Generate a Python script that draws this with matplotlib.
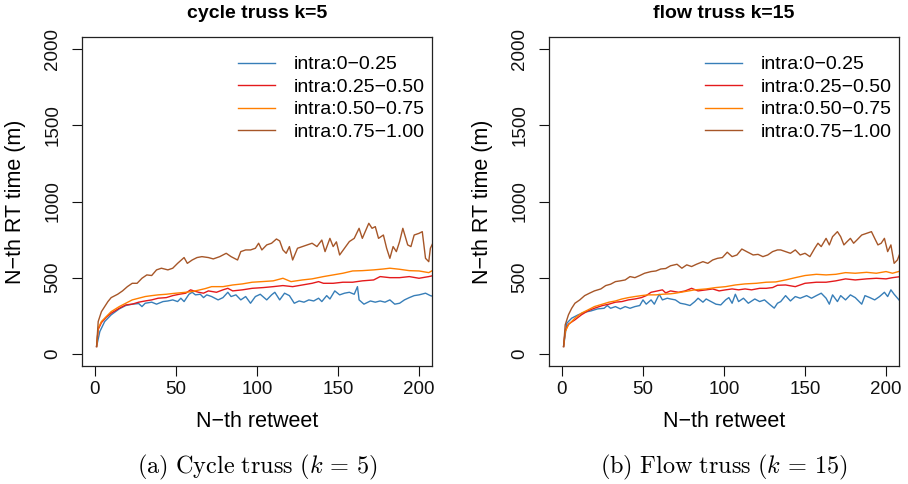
import matplotlib
matplotlib.use("Agg")
import matplotlib.pyplot as plt

plt.rcParams["font.family"] = ["Liberation Sans", "DejaVu Sans"]
plt.rcParams["mathtext.fontset"] = "cm"

labels = ["intra:0\u22120.25", "intra:0.25\u22120.50", "intra:0.50\u22120.75", "intra:0.75\u22121.00"]
colors = ["#377EB8", "#E41A1C", "#FF7F00", "#A65628"]
x_ticks = [0, 50, 100, 150, 200]
y_ticks = [0, 500, 1000, 1500, 2000]

# ---- cycle truss k=5 ----
cyc_blue_x = [1, 3, 6, 10, 15, 19, 23, 27, 29, 31, 35, 38, 42, 45, 48, 51, 53, 55, 58, 60, 62, 65, 67, 69,
              72, 76, 79, 82, 84, 87, 90, 93, 96, 99, 102, 106, 109, 111, 114, 117, 120, 123, 126, 129,
              132, 135, 138, 140, 143, 145, 148, 151, 154, 157, 160, 162, 163, 166, 170, 173, 176, 179,
              182, 185, 188, 191, 194, 197, 200, 204, 207, 209]
cyc_blue_y = [48, 146, 212, 256, 295, 317, 326, 330, 310, 332, 339, 326, 343, 347, 354, 343, 365, 343, 391,
              404, 387, 391, 369, 387, 376, 354, 369, 404, 376, 387, 354, 376, 332, 376, 391, 354, 387,
              404, 354, 398, 382, 332, 347, 339, 354, 347, 365, 343, 382, 360, 413, 387, 398, 404, 391,
              441, 354, 326, 347, 339, 347, 339, 354, 326, 332, 354, 369, 382, 387, 398, 382, 376]

cyc_red_x = [1, 2, 4, 7, 10, 15, 19, 23, 27, 31, 35, 39, 44, 48, 52, 56, 59, 61, 64, 67, 70, 75, 79, 82,
             85, 91, 97, 104, 110, 116, 122, 128, 134, 138, 141, 147, 153, 159, 165, 172, 176, 182, 188,
             194, 200, 206, 209]
cyc_red_y = [48, 160, 205, 240, 267, 299, 321, 326, 339, 347, 354, 365, 369, 382, 391, 398, 420, 413, 404,
             398, 413, 404, 420, 430, 413, 420, 430, 435, 441, 448, 441, 452, 463, 474, 463, 463, 470,
             470, 479, 485, 507, 500, 500, 507, 496, 507, 514]

cyc_orange_x = [1, 2, 4, 7, 10, 15, 19, 23, 27, 31, 35, 39, 44, 48, 52, 56, 60, 64, 68, 72, 79, 85, 91,
                97, 103, 110, 116, 121, 128, 134, 141, 147, 153, 159, 165, 172, 178, 182, 188, 194, 200,
                206, 209]
cyc_orange_y = [48, 168, 212, 245, 277, 310, 332, 354, 365, 376, 382, 387, 391, 396, 400, 404, 409, 418,
                428, 441, 441, 452, 459, 470, 474, 479, 496, 474, 485, 492, 507, 518, 529, 544, 546, 551,
                557, 562, 555, 546, 544, 533, 551]

cyc_brown_x = [1, 2, 4, 6, 8, 10, 14, 17, 20, 23, 26, 29, 32, 35, 38, 41, 45, 48, 51, 55, 57, 60, 63, 66,
               70, 73, 77, 81, 84, 88, 90, 93, 96, 99, 101, 103, 106, 109, 112, 114, 116, 118, 120, 122,
               125, 128, 131, 134, 137, 140, 142, 145, 147, 149, 151, 154, 157, 160, 163, 165, 169, 171,
               173, 175, 178, 180, 182, 184, 186, 188, 190, 193, 195, 197, 200, 202, 204, 206, 207, 209]
cyc_brown_y = [48, 212, 277, 310, 343, 369, 391, 413, 441, 463, 463, 496, 518, 514, 551, 562, 551, 562,
               594, 632, 594, 616, 632, 638, 632, 623, 638, 660, 638, 616, 671, 682, 682, 693, 726, 682,
               715, 726, 754, 741, 682, 660, 704, 616, 693, 704, 715, 726, 704, 747, 671, 758, 704, 735,
               649, 693, 737, 758, 824, 758, 857, 824, 835, 758, 780, 693, 627, 704, 671, 737, 824, 715,
               704, 780, 791, 802, 627, 605, 693, 737]

# ---- flow truss k=15 ----
flw_blue_x = [1, 3, 6, 10, 14, 18, 22, 26, 28, 30, 33, 36, 39, 42, 45, 48, 50, 52, 55, 57, 60, 62, 65, 67,
              70, 73, 76, 79, 82, 84, 87, 89, 92, 95, 98, 101, 103, 105, 107, 109, 112, 115, 119, 122,
              125, 128, 131, 133, 135, 138, 141, 144, 147, 151, 154, 157, 160, 163, 165, 167, 170, 172,
              175, 178, 181, 185, 187, 190, 193, 196, 199, 201, 203, 205, 208]
flw_blue_y = [48, 201, 234, 256, 273, 282, 295, 299, 317, 299, 310, 295, 310, 299, 310, 317, 354, 326, 354,
              326, 391, 354, 365, 360, 354, 332, 326, 317, 343, 365, 339, 360, 343, 326, 321, 354, 369,
              332, 391, 343, 365, 332, 360, 343, 354, 326, 300, 332, 343, 382, 347, 376, 365, 382, 365,
              382, 398, 365, 326, 387, 343, 382, 354, 387, 369, 326, 382, 369, 354, 376, 404, 376, 420,
              391, 354]

flw_red_x = [1, 2, 4, 8, 12, 16, 20, 25, 29, 33, 37, 41, 45, 49, 52, 55, 59, 62, 64, 67, 72, 76, 80, 84,
             89, 93, 97, 101, 105, 109, 113, 117, 122, 126, 130, 133, 138, 144, 150, 157, 163, 169, 175,
             181, 188, 194, 200, 204, 209]
flw_red_y = [48, 150, 195, 223, 256, 282, 299, 317, 326, 339, 343, 354, 360, 369, 382, 404, 413, 420, 400,
             413, 404, 413, 430, 413, 420, 426, 413, 420, 426, 420, 426, 420, 430, 430, 435, 450, 452,
             441, 463, 470, 470, 479, 492, 485, 492, 496, 492, 500, 507]

flw_orange_x = [1, 2, 4, 8, 12, 16, 20, 25, 29, 33, 37, 41, 45, 49, 53, 58, 62, 67, 70, 76, 82, 89, 95,
                101, 107, 113, 120, 126, 132, 138, 144, 150, 157, 163, 169, 175, 181, 188, 194, 200, 204,
                209]
flw_orange_y = [48, 146, 190, 234, 267, 288, 310, 326, 339, 347, 360, 369, 376, 382, 387, 387, 391, 394,
                398, 409, 420, 426, 435, 441, 452, 459, 463, 470, 472, 485, 500, 514, 522, 518, 522, 533,
                529, 535, 529, 540, 529, 544]

flw_brown_x = [1, 2, 4, 6, 8, 11, 14, 17, 20, 24, 27, 30, 33, 36, 39, 42, 45, 48, 51, 55, 58, 61, 64, 67,
               71, 74, 77, 80, 83, 87, 90, 93, 96, 99, 102, 105, 108, 111, 114, 118, 121, 124, 127, 130,
               133, 135, 138, 141, 144, 147, 150, 153, 156, 158, 160, 163, 165, 167, 170, 172, 174, 176,
               178, 180, 182, 185, 188, 191, 193, 195, 197, 199, 201, 203, 205, 207, 209]
flw_brown_y = [48, 190, 256, 299, 332, 354, 382, 398, 413, 426, 448, 457, 474, 479, 485, 507, 500, 514,
               529, 540, 544, 557, 560, 578, 588, 562, 584, 573, 588, 605, 594, 616, 627, 632, 667, 638,
               649, 688, 671, 649, 653, 638, 649, 671, 682, 682, 671, 660, 682, 649, 660, 638, 693, 726,
               704, 758, 715, 769, 802, 769, 715, 737, 758, 726, 747, 780, 791, 802, 758, 715, 726, 758,
               671, 715, 594, 616, 671]

panels = [
    ("cycle truss k=5", r"$\mathrm{(a)\ Cycle\ truss\ }(k\,=\,5)$",
     [(cyc_blue_x, cyc_blue_y), (cyc_red_x, cyc_red_y),
      (cyc_orange_x, cyc_orange_y), (cyc_brown_x, cyc_brown_y)]),
    ("flow truss k=15", r"$\mathrm{(b)\ Flow\ truss\ }(k\,=\,15)$",
     [(flw_blue_x, flw_blue_y), (flw_red_x, flw_red_y),
      (flw_orange_x, flw_orange_y), (flw_brown_x, flw_brown_y)]),
]

fig = plt.figure(figsize=(9.08, 4.84), dpi=100)
lefts = [82 / 908, 549 / 908]

for left, (title, caption, series) in zip(lefts, panels):
    ax = fig.add_axes([left, 1 - 366 / 484, 350 / 908, 329 / 484])
    for (xs, ys), c, lab in zip(series, colors, labels):
        ax.plot(xs, ys, color=c, lw=1.0, label=lab)

    ax.set_xlim(-8, 208)
    ax.set_ylim(-80, 2080)
    ax.set_xticks(x_ticks)
    ax.set_yticks(y_ticks)
    ax.tick_params(direction="out", length=7, width=0.8, labelsize=13.5, colors="#111111")
    ax.tick_params(axis="x", pad=4)
    ax.tick_params(axis="y", pad=8, labelrotation=90)
    for lbl in ax.get_yticklabels():
        lbl.set_va("center")
    for sp in ax.spines.values():
        sp.set_linewidth(0.9)
        sp.set_color("#222222")

    ax.set_title(title, fontsize=14, fontweight="bold", pad=14)
    ax.set_xlabel("N\u2212th retweet", fontsize=15.5, va="center")
    ax.xaxis.set_label_coords(0.5, -0.170)
    ax.set_ylabel("N\u2212th RT time (m)", fontsize=15.5, va="center")
    ax.yaxis.set_label_coords(-0.189, 0.5)

    ax.legend(loc="upper left", bbox_to_anchor=(0.445, 0.943), frameon=False, fontsize=14,
              handlelength=1.9, handletextpad=1.0, labelspacing=0.25,
              borderpad=0, borderaxespad=0)

    center = left + 175 / 908
    fig.text(center, 1 - 467 / 484, caption, ha="center", va="center", fontsize=17.5)

fig.savefig("out.png", dpi=100)
